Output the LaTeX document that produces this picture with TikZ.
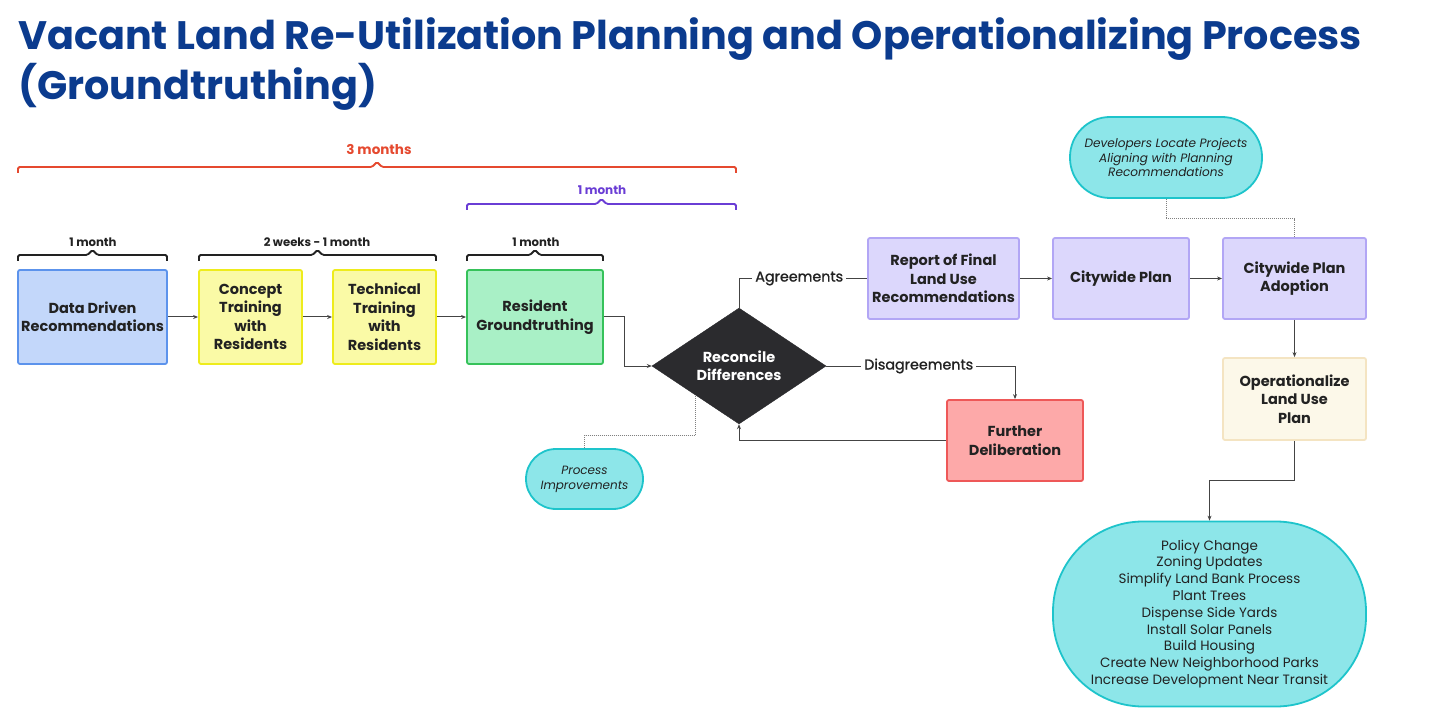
\documentclass[tikz,border=0pt]{standalone}
\usepackage{fontspec}
\setmainfont{Poppins}
\usetikzlibrary{shapes.geometric,arrows.meta}
\definecolor{titleblue}{HTML}{0B3B8E}
\definecolor{bred}{HTML}{E5492F}
\definecolor{bpurple}{HTML}{6A3DD5}
\definecolor{txt}{HTML}{222222}
\definecolor{lnk}{HTML}{444444}
\definecolor{bluefill}{HTML}{C3D7FA}
\definecolor{blueline}{HTML}{5C93EC}
\definecolor{yelfill}{HTML}{FAFAA6}
\definecolor{yelline}{HTML}{EEEC1C}
\definecolor{grnfill}{HTML}{A9F0C6}
\definecolor{grnline}{HTML}{36C25A}
\definecolor{lavfill}{HTML}{DCD7FC}
\definecolor{lavline}{HTML}{B2A6F5}
\definecolor{crmfill}{HTML}{FCF8E9}
\definecolor{crmline}{HTML}{F4E4C2}
\definecolor{pinkfill}{HTML}{FDA9A9}
\definecolor{pinkline}{HTML}{EE5858}
\definecolor{cyanfill}{HTML}{8DE6E9}
\definecolor{cyanline}{HTML}{1EC4CB}
\definecolor{diafill}{HTML}{2B2B2E}
\newcommand\mybrace[5]{%
  \draw[#4, line width=1.8pt, rounded corners=1.5pt]
    (#1,#3+#5) -- (#1,#3) -- ({(#1+#2)/2-5},#3) -- ({(#1+#2)/2},#3-5)
    -- ({(#1+#2)/2+5},#3) -- (#2,#3) -- (#2,#3+#5);}
\begin{document}
\begin{tikzpicture}[x=1pt,y=-1pt,
  box/.style={draw, line width=1.8pt, rounded corners=2pt, align=center,
    text=txt, inner sep=0pt, font=\bfseries\fontsize{14.5}{18.5}\selectfont},
  pill/.style={draw=cyanline, fill=cyanfill, line width=1.8pt, align=center,
    text=txt, inner sep=0pt},
  arr/.style={draw=lnk, line width=1pt, -{Stealth[length=5pt,width=4pt]}},
  plain/.style={draw=lnk, line width=1pt},
  dotline/.style={draw=gray, line width=1pt, densely dotted},
  lbl/.style={fill=white, text=txt, inner sep=3pt,
    font=\fontsize{14.3}{16}\selectfont\addfontfeatures{FakeBold=1.2}},
  bl/.style={text=txt, font=\bfseries\fontsize{11.7}{13}\selectfont}
]
\useasboundingbox (0,0) rectangle (1430,719);
\fill[white] (0,0) rectangle (1430,719);

% title
\node[anchor=base west, text=titleblue, inner sep=0pt,
  font=\bfseries\fontsize{39.7}{42}\selectfont] (t1) at (18,50)
  {Vacant Land Re-Utilization Planning and Operationalizing Process};
\node[anchor=base west, text=titleblue, inner sep=0pt,
  font=\bfseries\fontsize{39.7}{42}\selectfont] (t2) at (18,100)
  {(Groundtruthing)};

% braces
\mybrace{18}{736}{167}{bred}{6}
\node[text=bred, font=\bfseries\fontsize{13.5}{16}\selectfont] (b3) at (379,150) {3 months};
\mybrace{467}{736}{204}{bpurple}{6}
\node[text=bpurple, font=\bfseries\fontsize{12}{14}\selectfont] (bp) at (602,190) {1 month};
\mybrace{18}{167}{255}{txt}{6}
\node[bl] (bk1) at (93,242) {1 month};
\mybrace{199}{436}{255}{txt}{6}
\node[bl] (bk2) at (317,242) {2 weeks - 1 month};
\mybrace{467}{603}{255}{txt}{6}
\node[bl] (bk3) at (536,242) {1 month};

% boxes
\node[box, draw=blueline, fill=bluefill, minimum width=149pt, minimum height=94pt] (data) at (92.5,317) {Data Driven\\Recommendations};
\node[box, draw=yelline, fill=yelfill, minimum width=103pt, minimum height=94pt] (concept) at (250.5,317) {Concept\\Training\\with\\Residents};
\node[box, draw=yelline, fill=yelfill, minimum width=103pt, minimum height=94pt] (tech) at (384.5,317) {Technical\\Training\\with\\Residents};
\node[box, draw=grnline, fill=grnfill, minimum width=136pt, minimum height=94pt] (res) at (535,317) {Resident\\Groundtruthing};

\node[diamond, draw=diafill, fill=diafill, minimum width=174pt, minimum height=116pt, inner sep=0pt,
  text=white, align=center, font=\bfseries\fontsize{14.5}{18.5}\selectfont] (dia) at (739,366) {Reconcile\\Differences};

\node[box, draw=lavline, fill=lavfill, minimum width=151pt, minimum height=81pt] (rep) at (943.5,278.5) {Report of Final\\Land Use\\Recommendations};
\node[box, draw=lavline, fill=lavfill, minimum width=136pt, minimum height=81pt] (city) at (1121,278.5) {Citywide Plan};
\node[box, draw=lavline, fill=lavfill, minimum width=143pt, minimum height=81pt] (adopt) at (1294.5,278.5) {Citywide Plan\\Adoption};
\node[box, draw=crmline, fill=crmfill, minimum width=143pt, minimum height=82pt] (oper) at (1294.5,399) {Operationalize\\Land Use\\Plan};
\node[box, draw=pinkline, fill=pinkfill, minimum width=136pt, minimum height=81pt] (fur) at (1015,440.5) {Further\\Deliberation};

\node[pill, rounded corners=40pt, minimum width=192pt, minimum height=81pt,
  font=\itshape\fontsize{12.1}{14.5}\selectfont] (dev) at (1166,157.5)
  {Developers Locate Projects\\Aligning with Planning\\Recommendations};
\node[pill, rounded corners=30pt, minimum width=117pt, minimum height=60pt,
  font=\itshape\fontsize{12}{15}\selectfont] (proc) at (584.5,479)
  {Process\\Improvements};
\node[pill, rounded corners=90pt, minimum width=313pt, minimum height=185pt,
  font=\fontsize{13.5}{16.8}\selectfont] (big) at (1209.5,614)
  {Policy Change\\Zoning Updates\\Simplify Land Bank Process\\Plant Trees\\Dispense Side Yards\\Install Solar Panels\\Build Housing\\Create New Neighborhood Parks\\Increase Development Near Transit};

% connectors
\draw[arr] (data) -- (concept);
\draw[arr] (concept) -- (tech);
\draw[arr] (tech) -- (res);
\draw[arr] (res.east) -| ([xshift=-27pt]dia.west) -- (dia.west);
\draw[plain] (dia.north) |- (rep.west) node[lbl, pos=0.735] (agr) {Agreements};
\draw[arr] (dia.east) -| (fur.north) node[lbl, pos=0.245] (dis) {Disagreements};
\draw[arr] (fur.west) -| (dia.south);
\draw[arr] (rep) -- (city);
\draw[arr] (city) -- (adopt);
\draw[arr] (adopt) -- (oper);
\draw[arr] (oper.south) -- ++(0,40) -| (big.north);
\draw[dotline] (dev.south) -- ++(0,20) -| (adopt.north);
\draw[dotline] (proc.north) -- ++(0,-13) -| (dia.south west);
\end{tikzpicture}
\end{document}
